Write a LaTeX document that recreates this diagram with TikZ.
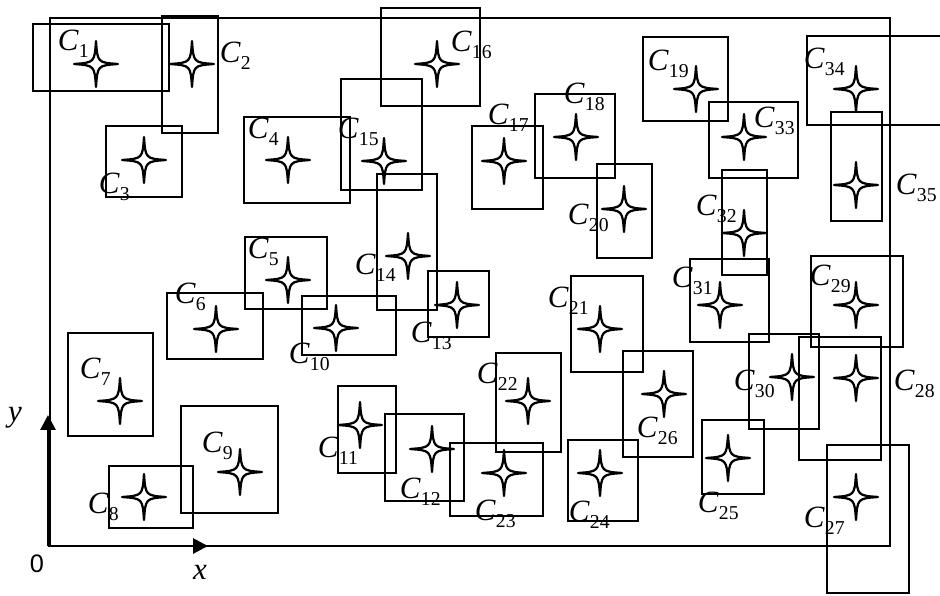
\documentclass[tikz,border=0pt]{standalone}
\usepackage{fontspec}
\setmainfont{Liberation Serif}
\newfontfamily\axisfont{Liberation Sans}
\usetikzlibrary{arrows.meta}
\newcommand{\clab}[1]{\textit{C}\raisebox{-2.6pt}{\fontsize{7}{8}\selectfont #1}}

\begin{document}
\begin{tikzpicture}[x=0.0125cm, y=-0.0125cm, line width=0.7pt,
    cellbox/.style={draw, line width=0.7pt},
    clabel/.style={anchor=base west, inner sep=0pt, font=\fontsize{11}{13}\selectfont},
    axis/.style={line width=1pt, -{Triangle[length=5.3pt, width=5.3pt]}},
    spark/.pic={\draw[line width=0.8pt, line join=round] (0,-23) .. controls (1.5,-1.5) .. (22,0) .. controls (1.5,1.5) .. (0,23) .. controls (-1.5,1.5) .. (-22,0) .. controls (-1.5,-1.5) .. cycle;}]
    \clip (0,0) rectangle (940,595);

    % Region
    \draw (50,18) rectangle (890,546);

    % Cells: number / corners / star / label
    \foreach \n/\xa/\ya/\xb/\yb/\sx/\sy/\lx/\ly in {
        1/33/24/169/91/96/64/57/50,
        2/162/16/218/133/192/64/219/62,
        3/106/126/182/197/144/160/98/193,
        4/244/117/350/203/288/160/247/138,
        5/245/237/327/309/288/280/247/258,
        6/167/293/263/359/216/329/174/303,
        7/68/333/153/436/120/401/79/378,
        8/109/466/193/528/144/497/87/513,
        9/181/406/278/513/240/472/201/452,
        10/302/296/396/355/336/328/288/363,
        11/338/386/396/473/360/425/317/457,
        12/385/414/464/501/432/449/399/498,
        13/428/271/489/337/457/305/410/342,
        14/377/174/437/310/408/256/354/274,
        15/341/79/422/190/384/161/337/138,
        16/381/8/480/106/437/64/450/51,
        17/472/126/543/209/504/161/487/124,
        18/535/94/615/178/576/137/563/103,
        19/643/37/728/121/696/89/647/70,
        20/597/164/652/258/624/209/567/224,
        21/571/276/643/372/600/329/547/307,
        22/496/353/561/452/528/401/476/383,
        23/450/443/543/516/504/473/474/520,
        24/568/440/638/521/600/473/568/521,
        25/702/420/764/494/728/458/697/512,
        26/623/351/693/457/664/394/636/437,
        27/827/445/909/593/856/497/803/527,
        28/799/337/881/460/856/378/893/390,
        29/811/256/903/347/856/305/809/285,
        30/749/334/819/429/792/377/733/390,
        31/690/259/769/342/720/305/671/287,
        32/722/170/767/275/744/233/695/215,
        33/709/102/798/178/744/137/753/127,
        34/807/36/960/125/856/89/803/68,
        35/831/112/882/221/856/185/895/194}
    {
        \draw[cellbox] (\xa,\ya) rectangle (\xb,\yb);
        \pic at (\sx,\sy) {spark};
        \node[clabel] (c\n) at (\lx,\ly) {\clab{\n}};
    }

    % Axes
    \coordinate (O) at (48,546);
    \coordinate (xend) at (208,546);
    \coordinate (yend) at (48,415);
    \draw[axis] (O) -- (xend);
    \draw[axis] (O) -- (yend);
    \node (zero) at (37,564) {\axisfont\fontsize{9}{11}\selectfont 0};
    \node[font=\fontsize{11}{13}\selectfont] (xlab) at (200,572) {\textit{x}};
    \node[font=\fontsize{11}{13}\selectfont] (ylab) at (15,418) {\textit{y}};
\end{tikzpicture}
\end{document}
